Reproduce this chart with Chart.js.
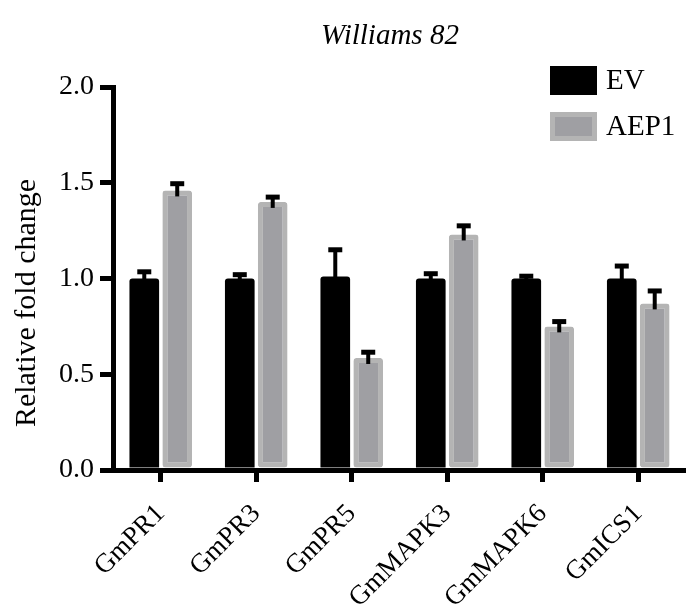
<!DOCTYPE html>
<html>
<head>
<meta charset="utf-8">
<script src="https://cdn.jsdelivr.net/npm/chart.js@4/dist/chart.umd.min.js"></script>
<style>
  html, body { margin: 0; padding: 0; background: #fff; }
  #wrap { width: 686px; height: 609px; }
</style>
</head>
<body>
<div id="wrap"><canvas id="barChart" width="686" height="609"></canvas></div>
<script>
var genes = ["GmPR1", "GmPR3", "GmPR5", "GmMAPK3", "GmMAPK6", "GmICS1"];
var evValues = [1.0, 1.0, 1.01, 1.0, 1.0, 1.0];
var evErrors = [0.035, 0.02, 0.14, 0.025, 0.012, 0.065];
var aepValues = [1.46, 1.40, 0.585, 1.23, 0.75, 0.87];
var aepErrors = [0.035, 0.025, 0.03, 0.045, 0.025, 0.065];
var yTicks = [0, 0.5, 1.0, 1.5, 2.0];

var serif = "'Liberation Serif', 'Times New Roman', serif";

// error bars (upper only), drawn from the bar top up
var errorBars = {
    id: 'errorBars',
    afterDatasetsDraw: function(chart){
        var ctx = chart.ctx;
        var yScale = chart.scales.y;
        ctx.save();
        ctx.strokeStyle = '#000';
        chart.data.datasets.forEach(function(ds, i){
            var meta = chart.getDatasetMeta(i);
            meta.data.forEach(function(bar, j){
                var top = yScale.getPixelForValue(ds.data[j] + ds.errors[j]);
                ctx.lineWidth = 4;
                ctx.beginPath();
                ctx.moveTo(bar.x, bar.y + 6);
                ctx.lineTo(bar.x, top);
                ctx.stroke();
                ctx.lineWidth = 5;
                ctx.beginPath();
                ctx.moveTo(bar.x - 7, top);
                ctx.lineTo(bar.x + 7, top);
                ctx.stroke();
            });
        });
        ctx.restore();
    }
};

// title, legend in the top right corner, y axis title
var extras = {
    id: 'extras',
    afterDraw: function(chart){
        var ctx = chart.ctx;
        ctx.save();
        ctx.fillStyle = '#000';
        ctx.font = 'italic 29px ' + serif;
        ctx.textAlign = 'center';
        ctx.textBaseline = 'middle';
        ctx.fillText('Williams 82', 390, 36);

        chart.data.datasets.forEach(function(ds, i){
            var x = 550, y = 66 + i * 46, w = 47, h = 29;
            if (ds.borderWidth){
                ctx.fillStyle = ds.borderColor;
                ctx.fillRect(x, y, w, h);
                ctx.fillStyle = ds.backgroundColor;
                ctx.fillRect(x + 5, y + 5, w - 10, h - 10);
            } else {
                ctx.fillStyle = ds.backgroundColor;
                ctx.fillRect(x, y, w, h);
            }
            ctx.fillStyle = '#000';
            ctx.font = '29px ' + serif;
            ctx.textBaseline = 'middle';
            ctx.textAlign = 'left';
            ctx.fillText(ds.label, 606, y + h / 2 + 1);
        });

        ctx.translate(27, 303);
        ctx.rotate(-Math.PI / 2);
        ctx.font = '30px ' + serif;
        ctx.textAlign = 'center';
        ctx.textBaseline = 'middle';
        ctx.fillStyle = '#000';
        ctx.fillText('Relative fold change', 0, 0);
        ctx.restore();
    }
};

var ctxB = document.getElementById("barChart").getContext('2d');
var myBarChart = new Chart(ctxB, {
    type: 'bar',
    data: {
        labels: genes,
        datasets: [{
            label: 'EV',
            data: evValues,
            errors: evErrors,
            backgroundColor: '#000000',
            borderWidth: 0,
            borderRadius: 3
        }, {
            label: 'AEP1',
            data: aepValues,
            errors: aepErrors,
            backgroundColor: '#9f9fa3',
            borderColor: '#b4b4b4',
            borderWidth: 5,
            borderSkipped: false,
            borderRadius: 3
        }]
    },
    options: {
        responsive: false,
        animation: false,
        devicePixelRatio: 1,
        categoryPercentage: 0.69,
        barPercentage: 0.9,
        layout: { padding: { left: 0, right: 0, top: 87, bottom: 0 } },
        plugins: {
            legend: { display: false },
            tooltip: { enabled: false },
            title: { display: false }
        },
        scales: {
            x: {
                afterFit: function(scale){ scale.height = 139; },
                border: { display: true, color: '#000', width: 5 },
                grid: { offset: false, drawOnChartArea: false, drawTicks: true, tickLength: 12, lineWidth: 5, color: '#000' },
                ticks: {
                    color: '#000',
                    font: { family: serif, size: 27 },
                    minRotation: 45,
                    maxRotation: 45,
                    padding: 16
                }
            },
            y: {
                min: 0,
                max: 2,
                afterFit: function(scale){ scale.width = 113; },
                afterBuildTicks: function(scale){
                    scale.ticks = yTicks.map(function(v){ return { value: v }; });
                },
                border: { display: true, color: '#000', width: 5 },
                grid: { drawOnChartArea: false, drawTicks: true, tickLength: 13, lineWidth: 5, color: '#000' },
                ticks: {
                    color: '#000',
                    font: { family: serif, size: 28 },
                    padding: 6,
                    callback: function(v){ return Number(v).toFixed(1); }
                }
            }
        }
    },
    plugins: [errorBars, extras]
});
</script>
</body>
</html>
